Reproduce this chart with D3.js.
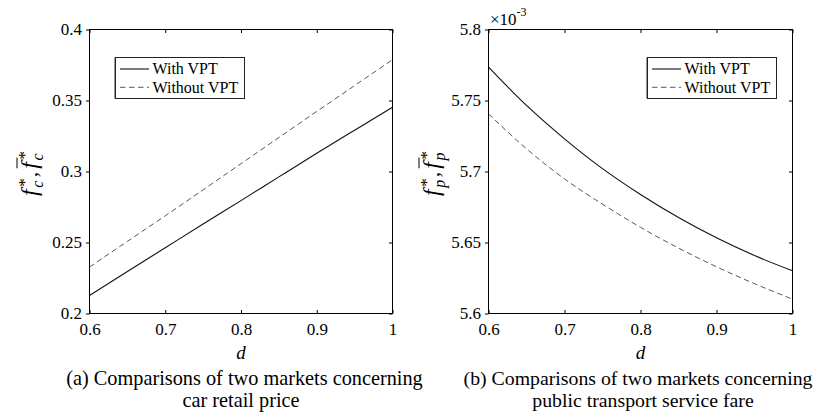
<!DOCTYPE html>
<html>
<head>
<meta charset="utf-8">
<script src="https://cdn.jsdelivr.net/npm/d3@7/dist/d3.min.js"></script>
<style>
  html, body { margin: 0; padding: 0; background: #fff; }
  svg { display: block; }
  svg text { font-family: "Liberation Serif", "Times New Roman", Tinos, "DejaVu Serif", serif !important; fill: #000; }
</style>
</head>
<body>
<svg id="chart" width="818" height="418"></svg>
<script>
// Discount factor d on the horizontal axis
const dValues = [0.6, 0.65, 0.7, 0.75, 0.8, 0.85, 0.9, 0.95, 1.0];

// (a) car retail price
const carPriceWithVPT    = [0.2127, 0.2296, 0.2463, 0.2630, 0.2795, 0.2962, 0.3128, 0.3291, 0.3453];
const carPriceWithoutVPT = [0.2327, 0.2508, 0.2688, 0.2871, 0.3055, 0.3239, 0.3423, 0.3605, 0.3787];

// (b) public transport service fare, in units of 1e-3
const fareWithVPT    = [5.7735, 5.7465, 5.7230, 5.7020, 5.6838, 5.6676, 5.6533, 5.6408, 5.6301];
const fareWithoutVPT = [5.7406, 5.7160, 5.6948, 5.6770, 5.6607, 5.6461, 5.6329, 5.6210, 5.6101];

// Axis ticks
const dTicks = [0.6, 0.7, 0.8, 0.9, 1];
const dTickLabels = ["0.6", "0.7", "0.8", "0.9", "1"];
const carTicks = [0.2, 0.25, 0.3, 0.35, 0.4];
const carTickLabels = ["0.2", "0.25", "0.3", "0.35", "0.4"];
const fareTicks = [5.6, 5.65, 5.7, 5.75, 5.8];
const fareTickLabels = ["5.6", "5.65", "5.7", "5.75", "5.8"];

const seriesNames = ["With VPT", "Without VPT"];
const captionsA = ["(a) Comparisons of two markets concerning", "car retail price"];
const captionsB = ["(b) Comparisons of two markets concerning", "public transport service fare"];

const svg = d3.select("#chart");
const TICK = 3.5;

function panel(opts) {
  const { left, right, top, bottom, yDomain, yTicks, yTickLabels, series, legendX, ySub,
          captions, captionSize, captionX, yLabelX } = opts;
  const x = d3.scaleLinear().domain([0.6, 1]).range([left, right]);
  const y = d3.scaleLinear().domain(yDomain).range([bottom, top]);
  const g = svg.append("g");

  const fmtX = d => dTickLabels[dTicks.indexOf(d)];
  const fmtY = d => yTickLabels[yTicks.indexOf(d)];

  // bottom axis: ticks point into the box
  const gb = g.append("g").attr("transform", `translate(0,${bottom})`)
    .call(d3.axisBottom(x).tickValues(dTicks).tickFormat(fmtX).tickSizeInner(-TICK).tickSizeOuter(0).tickPadding(9));
  // top axis
  const gt = g.append("g").attr("transform", `translate(0,${top})`)
    .call(d3.axisTop(x).tickValues(dTicks).tickFormat("").tickSizeInner(-TICK).tickSizeOuter(0));
  // left axis: ticks point outward
  const gl = g.append("g").attr("transform", `translate(${left},0)`)
    .call(d3.axisLeft(y).tickValues(yTicks).tickFormat(fmtY).tickSizeInner(TICK).tickSizeOuter(0).tickPadding(4));
  // right axis
  const gr = g.append("g").attr("transform", `translate(${right},0)`)
    .call(d3.axisRight(y).tickValues(yTicks).tickFormat("").tickSizeInner(-TICK).tickSizeOuter(0));

  [gb, gt, gl, gr].forEach(a => {
    a.attr("font-family", null);
    a.select(".domain").remove();
    a.selectAll(".tick line").attr("stroke", "#000").attr("stroke-width", 1);
    a.selectAll(".tick text").attr("font-size", 17).attr("fill", "#000");
  });
  gb.selectAll(".tick text").attr("dy", "0.71em");

  // curves
  const line = d3.line().x((d, i) => x(dValues[i])).y(d => y(d)).curve(d3.curveMonotoneX);
  g.append("path").datum(series[0]).attr("d", line)
    .attr("fill", "none").attr("stroke", "#111").attr("stroke-width", 1.1);
  g.append("path").datum(series[1]).attr("d", line)
    .attr("fill", "none").attr("stroke", "#444").attr("stroke-width", 0.9)
    .attr("stroke-dasharray", "5.5,3.5");

  // axes box
  g.append("rect").attr("x", left).attr("y", top)
    .attr("width", right - left).attr("height", bottom - top)
    .attr("fill", "none").attr("stroke", "#000").attr("stroke-width", 1);

  // legend
  const lg = g.append("g").attr("transform", `translate(${legendX},57.5)`);
  lg.append("rect").attr("width", 129).attr("height", 41)
    .attr("fill", "#fff").attr("stroke", "#222").attr("stroke-width", 1);
  lg.append("line").attr("x1", -1).attr("x2", -1).attr("y1", 0).attr("y2", 41)
    .attr("stroke", "#999").attr("stroke-width", 1);
  const rows = [11.5, 29.8];
  seriesNames.forEach((name, i) => {
    lg.append("line").attr("x1", 4.5).attr("x2", 33.5).attr("y1", rows[i]).attr("y2", rows[i])
      .attr("stroke", i === 0 ? "#111" : "#444").attr("stroke-width", i === 0 ? 1.1 : 0.9)
      .attr("stroke-dasharray", i === 0 ? null : "5.5,3.5");
    lg.append("text").attr("x", 37).attr("y", rows[i] + 5.3)
      .attr("font-size", 16).text(name);
  });

  // x label
  const cx = (left + right) / 2;
  g.append("text").attr("x", cx).attr("y", 359).attr("text-anchor", "middle")
    .attr("font-size", 19).attr("font-style", "italic").text("d");

  // captions
  captions.forEach((c, i) => {
    g.append("text").attr("x", captionX[i]).attr("y", 385 + i * 21.5)
      .attr("text-anchor", "middle").attr("font-size", captionSize).text(c);
  });

  // y label: f*_sub , f̄*_sub  (rotated)
  const yl = g.append("g");
  const inner = yl.append("g");
  let pos = 0;
  function term(withBar) {
    const f = inner.append("text").attr("x", pos).attr("y", 0)
      .attr("font-size", 24).attr("font-style", "italic").text("f");
    const wf = f.node().getComputedTextLength();
    if (withBar) {
      inner.append("line").attr("x1", pos + 0.5).attr("x2", pos + wf + 4.5)
        .attr("y1", -20).attr("y2", -20).attr("stroke", "#000").attr("stroke-width", 1);
    }
    const sx = pos + wf + 2.5;
    const star = inner.append("text").attr("x", sx).attr("y", -7)
      .attr("font-size", 17).text("*");
    const sub = inner.append("text").attr("x", sx - 1).attr("y", 6)
      .attr("font-size", 16).attr("font-style", "italic").text(ySub);
    pos = sx + Math.max(star.node().getComputedTextLength(), sub.node().getComputedTextLength() - 1);
  }
  term(false);
  pos += 1;
  const comma = inner.append("text").attr("x", pos).attr("y", 0).attr("font-size", 22).text(",");
  pos += comma.node().getComputedTextLength() + 3;
  term(true);
  inner.attr("transform", `translate(${-pos / 2},0)`);
  yl.attr("transform", `translate(${yLabelX},${(top + bottom) / 2 + 2}) rotate(-90)`);

  return g;
}

panel({
  left: 89.5, right: 392.5, top: 29.5, bottom: 313.5,
  yDomain: [0.2, 0.4], yTicks: carTicks, yTickLabels: carTickLabels,
  series: [carPriceWithVPT, carPriceWithoutVPT],
  legendX: 115.5, ySub: "c", captions: captionsA, captionSize: 20.3, captionX: [244.5, 241], yLabelX: 37
});

const right = panel({
  left: 488.5, right: 792.5, top: 29.5, bottom: 313.5,
  yDomain: [5.6, 5.8], yTicks: fareTicks, yTickLabels: fareTickLabels,
  series: [fareWithVPT, fareWithoutVPT],
  legendX: 647.5, ySub: "p", captions: captionsB, captionSize: 19.8, captionX: [638, 643], yLabelX: 439
});

// exponent marker of the fare axis
const ex = right.append("text").attr("x", 490).attr("y", 25).attr("font-size", 17);
ex.append("tspan").text("\u00d710");
ex.append("tspan").attr("dy", -9).attr("font-size", 12).text("-3");
</script>
</body>
</html>
